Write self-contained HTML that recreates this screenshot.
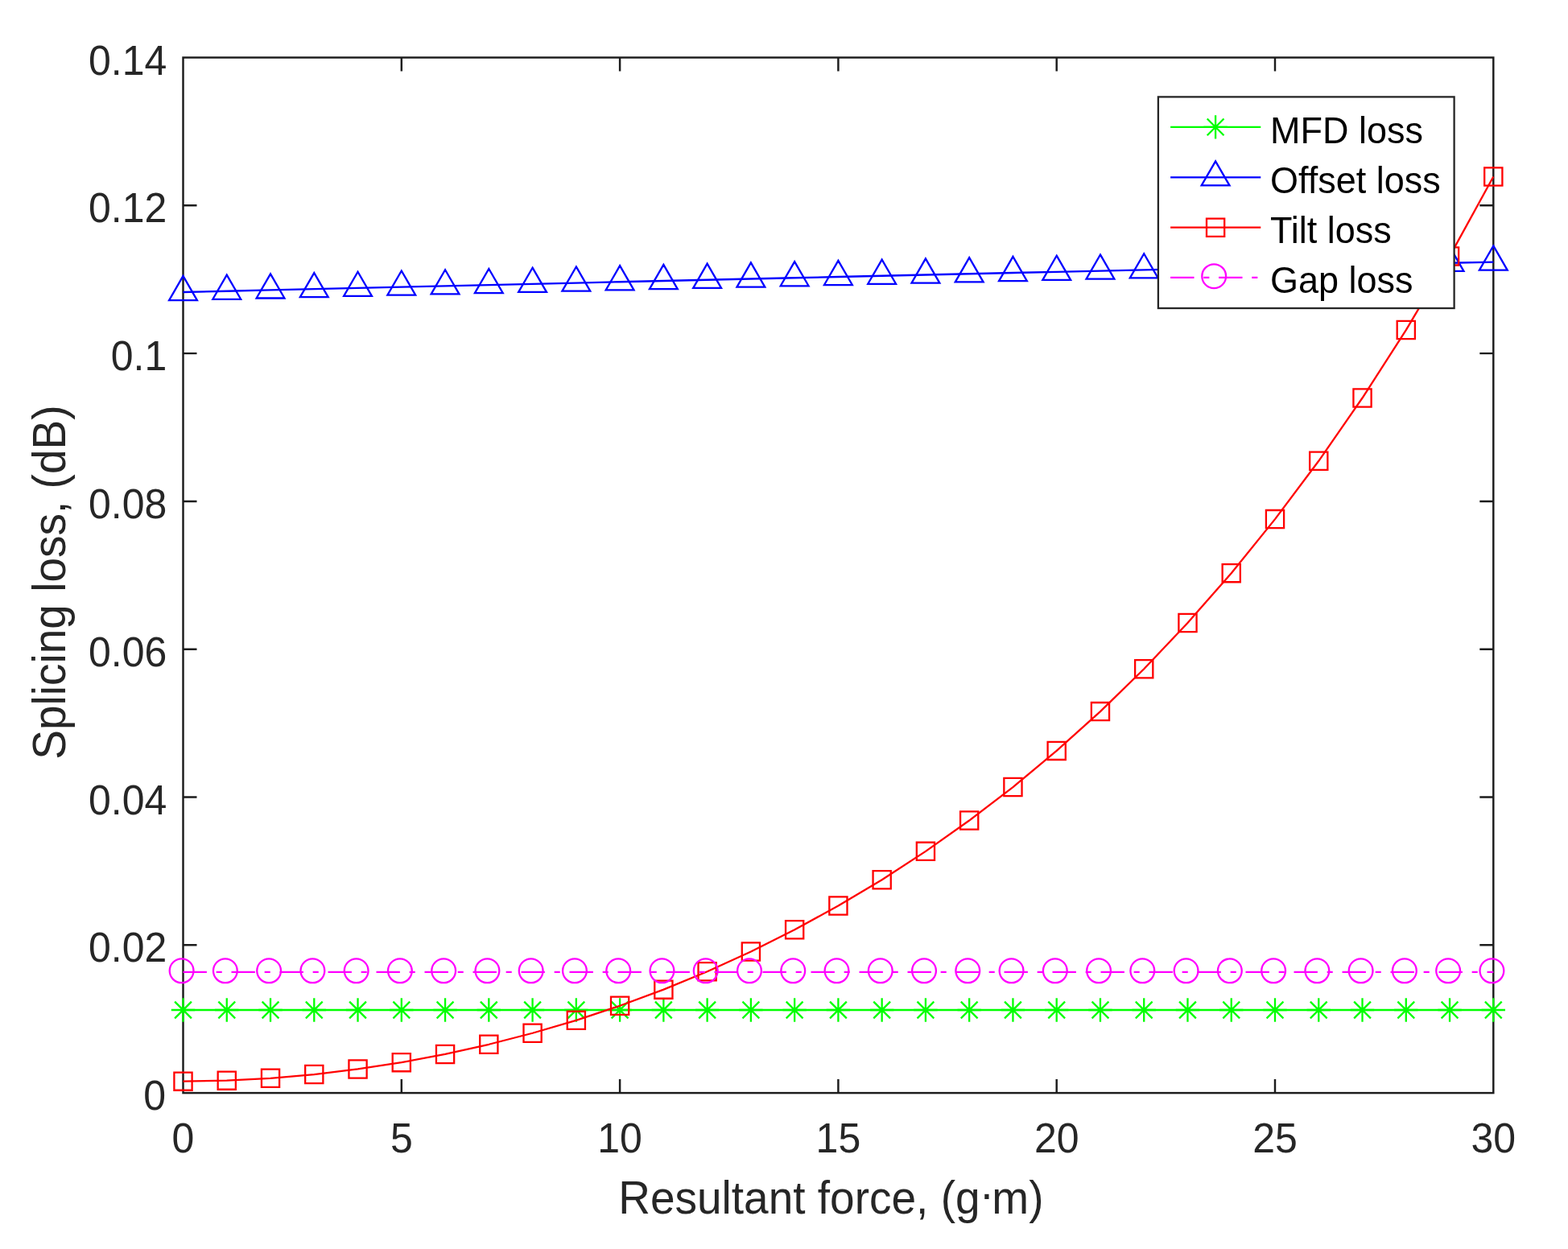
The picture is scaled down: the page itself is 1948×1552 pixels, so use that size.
<!DOCTYPE html><html><head><meta charset="utf-8"><title>Splicing loss vs resultant force</title><style>html,body{margin:0;padding:0;background:#fff;}svg{display:block;}text{font-family:"Liberation Sans",Arial,Helvetica,sans-serif;}</style></head><body>
<svg width="1948" height="1552" viewBox="0 0 1948 1552">
<rect x="0" y="0" width="1948" height="1552" fill="#fff"/>
<path d="M498.80 1358.10V1341.10M498.80 71.50V88.50M770.10 1358.10V1341.10M770.10 71.50V88.50M1041.40 1358.10V1341.10M1041.40 71.50V88.50M1312.70 1358.10V1341.10M1312.70 71.50V88.50M1584.00 1358.10V1341.10M1584.00 71.50V88.50M227.50 1174.30H244.50M1855.30 1174.30H1838.30M227.50 990.50H244.50M1855.30 990.50H1838.30M227.50 806.70H244.50M1855.30 806.70H1838.30M227.50 622.90H244.50M1855.30 622.90H1838.30M227.50 439.10H244.50M1855.30 439.10H1838.30M227.50 255.30H244.50M1855.30 255.30H1838.30" stroke="#1c1c1c" stroke-width="2.45" fill="none"/>
<rect x="227.50" y="71.50" width="1627.80" height="1286.60" stroke="#1c1c1c" stroke-width="2.45" fill="none"/>
<polyline points="227.50,1255.00 281.76,1255.00 336.02,1255.00 390.28,1255.00 444.54,1255.00 498.80,1255.00 553.06,1255.00 607.32,1255.00 661.58,1255.00 715.84,1255.00 770.10,1255.00 824.36,1255.00 878.62,1255.00 932.88,1255.00 987.14,1255.00 1041.40,1255.00 1095.66,1255.00 1149.92,1255.00 1204.18,1255.00 1258.44,1255.00 1312.70,1255.00 1366.96,1255.00 1421.22,1255.00 1475.48,1255.00 1529.74,1255.00 1584.00,1255.00 1638.26,1255.00 1692.52,1255.00 1746.78,1255.00 1801.04,1255.00 1855.30,1255.00" fill="none" stroke="#00ff00" stroke-width="2.3" stroke-linejoin="round"/>
<path d="M212.80 1255.00H242.20M227.50 1240.30V1269.70M217.11 1244.61L237.89 1265.39M217.11 1265.39L237.89 1244.61M267.06 1255.00H296.46M281.76 1240.30V1269.70M271.37 1244.61L292.15 1265.39M271.37 1265.39L292.15 1244.61M321.32 1255.00H350.72M336.02 1240.30V1269.70M325.63 1244.61L346.41 1265.39M325.63 1265.39L346.41 1244.61M375.58 1255.00H404.98M390.28 1240.30V1269.70M379.89 1244.61L400.67 1265.39M379.89 1265.39L400.67 1244.61M429.84 1255.00H459.24M444.54 1240.30V1269.70M434.15 1244.61L454.93 1265.39M434.15 1265.39L454.93 1244.61M484.10 1255.00H513.50M498.80 1240.30V1269.70M488.41 1244.61L509.19 1265.39M488.41 1265.39L509.19 1244.61M538.36 1255.00H567.76M553.06 1240.30V1269.70M542.67 1244.61L563.45 1265.39M542.67 1265.39L563.45 1244.61M592.62 1255.00H622.02M607.32 1240.30V1269.70M596.93 1244.61L617.71 1265.39M596.93 1265.39L617.71 1244.61M646.88 1255.00H676.28M661.58 1240.30V1269.70M651.19 1244.61L671.97 1265.39M651.19 1265.39L671.97 1244.61M701.14 1255.00H730.54M715.84 1240.30V1269.70M705.45 1244.61L726.23 1265.39M705.45 1265.39L726.23 1244.61M755.40 1255.00H784.80M770.10 1240.30V1269.70M759.71 1244.61L780.49 1265.39M759.71 1265.39L780.49 1244.61M809.66 1255.00H839.06M824.36 1240.30V1269.70M813.97 1244.61L834.75 1265.39M813.97 1265.39L834.75 1244.61M863.92 1255.00H893.32M878.62 1240.30V1269.70M868.23 1244.61L889.01 1265.39M868.23 1265.39L889.01 1244.61M918.18 1255.00H947.58M932.88 1240.30V1269.70M922.49 1244.61L943.27 1265.39M922.49 1265.39L943.27 1244.61M972.44 1255.00H1001.84M987.14 1240.30V1269.70M976.75 1244.61L997.53 1265.39M976.75 1265.39L997.53 1244.61M1026.70 1255.00H1056.10M1041.40 1240.30V1269.70M1031.01 1244.61L1051.79 1265.39M1031.01 1265.39L1051.79 1244.61M1080.96 1255.00H1110.36M1095.66 1240.30V1269.70M1085.27 1244.61L1106.05 1265.39M1085.27 1265.39L1106.05 1244.61M1135.22 1255.00H1164.62M1149.92 1240.30V1269.70M1139.53 1244.61L1160.31 1265.39M1139.53 1265.39L1160.31 1244.61M1189.48 1255.00H1218.88M1204.18 1240.30V1269.70M1193.79 1244.61L1214.57 1265.39M1193.79 1265.39L1214.57 1244.61M1243.74 1255.00H1273.14M1258.44 1240.30V1269.70M1248.05 1244.61L1268.83 1265.39M1248.05 1265.39L1268.83 1244.61M1298.00 1255.00H1327.40M1312.70 1240.30V1269.70M1302.31 1244.61L1323.09 1265.39M1302.31 1265.39L1323.09 1244.61M1352.26 1255.00H1381.66M1366.96 1240.30V1269.70M1356.57 1244.61L1377.35 1265.39M1356.57 1265.39L1377.35 1244.61M1406.52 1255.00H1435.92M1421.22 1240.30V1269.70M1410.83 1244.61L1431.61 1265.39M1410.83 1265.39L1431.61 1244.61M1460.78 1255.00H1490.18M1475.48 1240.30V1269.70M1465.09 1244.61L1485.87 1265.39M1465.09 1265.39L1485.87 1244.61M1515.04 1255.00H1544.44M1529.74 1240.30V1269.70M1519.35 1244.61L1540.13 1265.39M1519.35 1265.39L1540.13 1244.61M1569.30 1255.00H1598.70M1584.00 1240.30V1269.70M1573.61 1244.61L1594.39 1265.39M1573.61 1265.39L1594.39 1244.61M1623.56 1255.00H1652.96M1638.26 1240.30V1269.70M1627.87 1244.61L1648.65 1265.39M1627.87 1265.39L1648.65 1244.61M1677.82 1255.00H1707.22M1692.52 1240.30V1269.70M1682.13 1244.61L1702.91 1265.39M1682.13 1265.39L1702.91 1244.61M1732.08 1255.00H1761.48M1746.78 1240.30V1269.70M1736.39 1244.61L1757.17 1265.39M1736.39 1265.39L1757.17 1244.61M1786.34 1255.00H1815.74M1801.04 1240.30V1269.70M1790.65 1244.61L1811.43 1265.39M1790.65 1265.39L1811.43 1244.61M1840.60 1255.00H1870.00M1855.30 1240.30V1269.70M1844.91 1244.61L1865.69 1265.39M1844.91 1265.39L1865.69 1244.61" stroke="#00ff00" stroke-width="2.3" fill="none"/>
<polyline points="227.50,363.02 281.76,361.73 336.02,360.45 390.28,359.17 444.54,357.89 498.80,356.61 553.06,355.34 607.32,354.07 661.58,352.80 715.84,351.53 770.10,350.27 824.36,349.01 878.62,347.75 932.88,346.50 987.14,345.24 1041.40,343.99 1095.66,342.74 1149.92,341.50 1204.18,340.26 1258.44,339.01 1312.70,337.78 1366.96,336.54 1421.22,335.31 1475.48,334.08 1529.74,332.85 1584.00,331.62 1638.26,330.40 1692.52,329.18 1746.78,327.96 1801.04,326.75 1855.30,325.53" fill="none" stroke="#0000ff" stroke-width="2.3" stroke-linejoin="round"/>
<path d="M227.50 342.92L244.91 373.07H210.09ZM281.76 341.63L299.17 371.78H264.35ZM336.02 340.35L353.43 370.50H318.61ZM390.28 339.07L407.69 369.22H372.87ZM444.54 337.79L461.95 367.94H427.13ZM498.80 336.51L516.21 366.66H481.39ZM553.06 335.24L570.47 365.39H535.65ZM607.32 333.97L624.73 364.12H589.91ZM661.58 332.70L678.99 362.85H644.17ZM715.84 331.43L733.25 361.58H698.43ZM770.10 330.17L787.51 360.32H752.69ZM824.36 328.91L841.77 359.06H806.95ZM878.62 327.65L896.03 357.80H861.21ZM932.88 326.40L950.29 356.55H915.47ZM987.14 325.14L1004.55 355.29H969.73ZM1041.40 323.89L1058.81 354.04H1023.99ZM1095.66 322.64L1113.07 352.79H1078.25ZM1149.92 321.40L1167.33 351.55H1132.51ZM1204.18 320.16L1221.59 350.31H1186.77ZM1258.44 318.91L1275.85 349.06H1241.03ZM1312.70 317.68L1330.11 347.83H1295.29ZM1366.96 316.44L1384.37 346.59H1349.55ZM1421.22 315.21L1438.63 345.36H1403.81ZM1475.48 313.98L1492.89 344.13H1458.07ZM1529.74 312.75L1547.15 342.90H1512.33ZM1584.00 311.52L1601.41 341.67H1566.59ZM1638.26 310.30L1655.67 340.45H1620.85ZM1692.52 309.08L1709.93 339.23H1675.11ZM1746.78 307.86L1764.19 338.01H1729.37ZM1801.04 306.65L1818.45 336.80H1783.63ZM1855.30 305.43L1872.71 335.58H1837.89Z" stroke="#0000ff" stroke-width="2.3" fill="none" stroke-miterlimit="10"/>
<polyline points="227.50,1343.63 281.76,1342.67 336.02,1339.78 390.28,1335.07 444.54,1328.45 498.80,1320.15 553.06,1309.98 607.32,1297.76 661.58,1283.75 715.84,1267.87 770.10,1249.78 824.36,1229.65 878.62,1207.31 932.88,1182.43 987.14,1155.32 1041.40,1125.56 1095.66,1093.27 1149.92,1057.86 1204.18,1019.54 1258.44,978.06 1312.70,932.90 1366.96,884.08 1421.22,831.25 1475.48,773.93 1529.74,712.16 1584.00,645.10 1638.26,572.81 1692.52,494.53 1746.78,410.05 1801.04,318.42 1855.30,219.49" fill="none" stroke="#ff0000" stroke-width="2.3" stroke-linejoin="round"/>
<path d="M216.40 1332.53h22.2v22.2h-22.2ZM270.66 1331.57h22.2v22.2h-22.2ZM324.92 1328.68h22.2v22.2h-22.2ZM379.18 1323.97h22.2v22.2h-22.2ZM433.44 1317.35h22.2v22.2h-22.2ZM487.70 1309.05h22.2v22.2h-22.2ZM541.96 1298.88h22.2v22.2h-22.2ZM596.22 1286.66h22.2v22.2h-22.2ZM650.48 1272.65h22.2v22.2h-22.2ZM704.74 1256.77h22.2v22.2h-22.2ZM759.00 1238.68h22.2v22.2h-22.2ZM813.26 1218.55h22.2v22.2h-22.2ZM867.52 1196.21h22.2v22.2h-22.2ZM921.78 1171.33h22.2v22.2h-22.2ZM976.04 1144.22h22.2v22.2h-22.2ZM1030.30 1114.46h22.2v22.2h-22.2ZM1084.56 1082.17h22.2v22.2h-22.2ZM1138.82 1046.76h22.2v22.2h-22.2ZM1193.08 1008.44h22.2v22.2h-22.2ZM1247.34 966.96h22.2v22.2h-22.2ZM1301.60 921.80h22.2v22.2h-22.2ZM1355.86 872.98h22.2v22.2h-22.2ZM1410.12 820.15h22.2v22.2h-22.2ZM1464.38 762.83h22.2v22.2h-22.2ZM1518.64 701.06h22.2v22.2h-22.2ZM1572.90 634.00h22.2v22.2h-22.2ZM1627.16 561.71h22.2v22.2h-22.2ZM1681.42 483.43h22.2v22.2h-22.2ZM1735.68 398.95h22.2v22.2h-22.2ZM1789.94 307.32h22.2v22.2h-22.2ZM1844.20 208.39h22.2v22.2h-22.2Z" stroke="#ff0000" stroke-width="2.3" fill="none" stroke-miterlimit="10"/>
<polyline points="227.50,1207.90 281.76,1207.90 336.02,1207.90 390.28,1207.90 444.54,1207.90 498.80,1207.90 553.06,1207.90 607.32,1207.90 661.58,1207.90 715.84,1207.90 770.10,1207.90 824.36,1207.90 878.62,1207.90 932.88,1207.90 987.14,1207.90 1041.40,1207.90 1095.66,1207.90 1149.92,1207.90 1204.18,1207.90 1258.44,1207.90 1312.70,1207.90 1366.96,1207.90 1421.22,1207.90 1475.48,1207.90 1529.74,1207.90 1584.00,1207.90 1638.26,1207.90 1692.52,1207.90 1746.78,1207.90 1801.04,1207.90 1855.30,1207.90" fill="none" stroke="#ff00ff" stroke-width="2.3" stroke-linejoin="round" stroke-dasharray="29.4 11.75 7.1 11.75"/>
<g stroke="#ff00ff" stroke-width="2.30" fill="none"><circle cx="225.60" cy="1206.30" r="14.9"/><circle cx="279.86" cy="1206.30" r="14.9"/><circle cx="334.12" cy="1206.30" r="14.9"/><circle cx="388.38" cy="1206.30" r="14.9"/><circle cx="442.64" cy="1206.30" r="14.9"/><circle cx="496.90" cy="1206.30" r="14.9"/><circle cx="551.16" cy="1206.30" r="14.9"/><circle cx="605.42" cy="1206.30" r="14.9"/><circle cx="659.68" cy="1206.30" r="14.9"/><circle cx="713.94" cy="1206.30" r="14.9"/><circle cx="768.20" cy="1206.30" r="14.9"/><circle cx="822.46" cy="1206.30" r="14.9"/><circle cx="876.72" cy="1206.30" r="14.9"/><circle cx="930.98" cy="1206.30" r="14.9"/><circle cx="985.24" cy="1206.30" r="14.9"/><circle cx="1039.50" cy="1206.30" r="14.9"/><circle cx="1093.76" cy="1206.30" r="14.9"/><circle cx="1148.02" cy="1206.30" r="14.9"/><circle cx="1202.28" cy="1206.30" r="14.9"/><circle cx="1256.54" cy="1206.30" r="14.9"/><circle cx="1310.80" cy="1206.30" r="14.9"/><circle cx="1365.06" cy="1206.30" r="14.9"/><circle cx="1419.32" cy="1206.30" r="14.9"/><circle cx="1473.58" cy="1206.30" r="14.9"/><circle cx="1527.84" cy="1206.30" r="14.9"/><circle cx="1582.10" cy="1206.30" r="14.9"/><circle cx="1636.36" cy="1206.30" r="14.9"/><circle cx="1690.62" cy="1206.30" r="14.9"/><circle cx="1744.88" cy="1206.30" r="14.9"/><circle cx="1799.14" cy="1206.30" r="14.9"/><circle cx="1853.40" cy="1206.30" r="14.9"/></g>
<g font-size="50" fill="#262626"><text transform="translate(206.0,1379.10) scale(1,1.035)" text-anchor="end">0</text><text transform="translate(207.3,1195.30) scale(1,1.035)" text-anchor="end">0.02</text><text transform="translate(207.3,1011.50) scale(1,1.035)" text-anchor="end">0.04</text><text transform="translate(207.3,827.70) scale(1,1.035)" text-anchor="end">0.06</text><text transform="translate(207.3,643.90) scale(1,1.035)" text-anchor="end">0.08</text><text transform="translate(207.3,460.10) scale(1,1.035)" text-anchor="end">0.1</text><text transform="translate(207.3,276.30) scale(1,1.035)" text-anchor="end">0.12</text><text transform="translate(207.3,92.50) scale(1,1.035)" text-anchor="end">0.14</text><text transform="translate(227.50,1431.9) scale(1,1.035)" text-anchor="middle">0</text><text transform="translate(498.80,1431.9) scale(1,1.035)" text-anchor="middle">5</text><text transform="translate(770.10,1431.9) scale(1,1.035)" text-anchor="middle">10</text><text transform="translate(1041.40,1431.9) scale(1,1.035)" text-anchor="middle">15</text><text transform="translate(1312.70,1431.9) scale(1,1.035)" text-anchor="middle">20</text><text transform="translate(1584.00,1431.9) scale(1,1.035)" text-anchor="middle">25</text><text transform="translate(1855.30,1431.9) scale(1,1.035)" text-anchor="middle">30</text></g>
<text transform="translate(1032.35,1507.6) scale(1,1.045)" text-anchor="middle" font-size="55" fill="#262626">Resultant force, (g<tspan dx="-0.8" dy="-4.3">·</tspan><tspan dx="-2.7" dy="4.3">m)</tspan></text>
<text transform="translate(80.8,723.6) rotate(-90) scale(1,1.045)" x="0" y="0" text-anchor="middle" font-size="55" fill="#262626">Splicing loss, (dB)</text>
<rect x="1438.9" y="120.4" width="367.70" height="262.60" fill="#fff" stroke="#262626" stroke-width="2.3"/>
<path d="M1454.1 157.9H1566.3" stroke="#00ff00" stroke-width="2.3"/>
<path d="M1495.40 157.90H1524.80M1510.10 143.20V172.60M1499.71 147.51L1520.49 168.29M1499.71 168.29L1520.49 147.51" stroke="#00ff00" stroke-width="2.3" fill="none"/>
<text transform="translate(1578,177.50) scale(1,1.045)" font-size="45" fill="#000">MFD loss</text>
<path d="M1454.1 220.4H1566.3" stroke="#0000ff" stroke-width="2.3"/>
<path d="M1510.10 200.30L1527.51 230.45H1492.69Z" stroke="#0000ff" stroke-width="2.3" fill="none"/>
<text transform="translate(1578,240.00) scale(1,1.045)" font-size="45" fill="#000">Offset loss</text>
<path d="M1454.1 282.7H1566.3" stroke="#ff0000" stroke-width="2.3"/>
<path d="M1499.00 271.60h22.2v22.2h-22.2Z" stroke="#ff0000" stroke-width="2.3" fill="none"/>
<text transform="translate(1578,302.30) scale(1,1.045)" font-size="45" fill="#000">Tilt loss</text>
<path d="M1454.1 344.8H1566.3" stroke="#ff00ff" stroke-width="2.3" stroke-dasharray="29.4 11.75 7.1 11.75"/>
<circle cx="1508.20" cy="343.20" r="14.9" stroke="#ff00ff" stroke-width="2.3" fill="none"/>
<text transform="translate(1578,364.40) scale(1,1.045)" font-size="45" fill="#000">Gap loss</text>
</svg></body></html>
